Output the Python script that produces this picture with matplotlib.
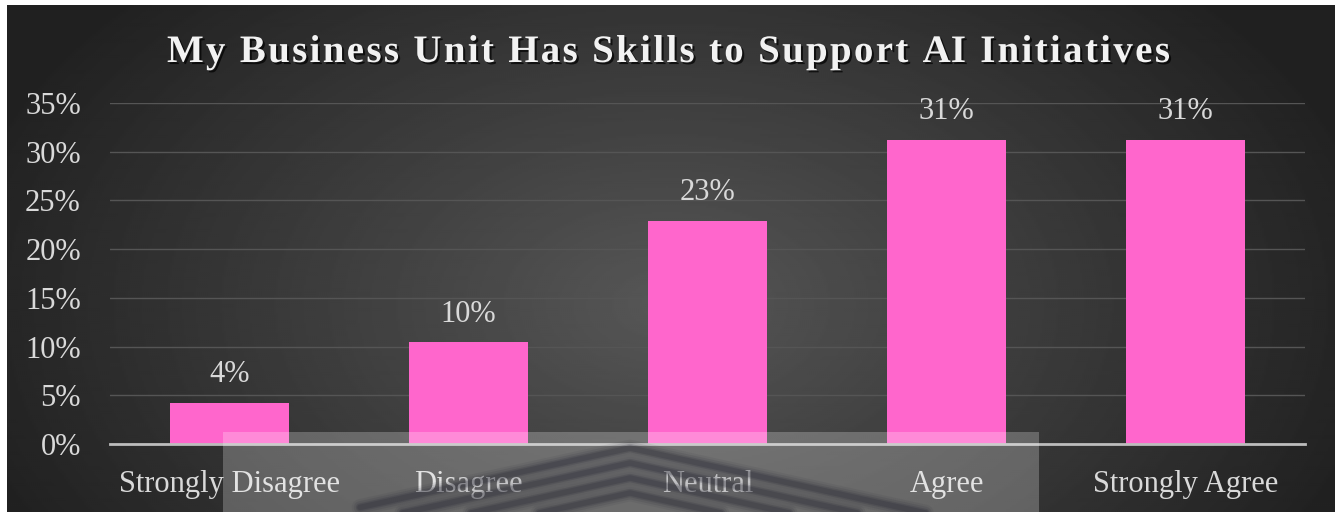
import numpy as np
import matplotlib
matplotlib.use("Agg")
import matplotlib.pyplot as plt
import matplotlib.patheffects as pe
from matplotlib.font_manager import FontProperties
from matplotlib.ticker import PercentFormatter

# survey results (share of respondents)
categories = ["Strongly Disagree", "Disagree", "Neutral", "Agree", "Strongly Agree"]
shares = [0.0417, 0.1042, 0.2292, 0.3125, 0.3125]
yticks = [0, 0.05, 0.10, 0.15, 0.20, 0.25, 0.30, 0.35]
title = "My Business Unit Has Skills to Support AI Initiatives"

W, H = 1343, 512
plt.rcParams["font.family"] = ["Liberation Serif", "DejaVu Serif"]
txt_col = "#d9d9d9"
bar_col = "#ff66cc"

fig = plt.figure(figsize=(W / 100, H / 100), dpi=100)
fig.patch.set_facecolor("white")

# dark radial background panel
bg = fig.add_axes([7 / W, 0, (1335 - 7) / W, 507 / H], zorder=0)
gx, gy = np.meshgrid(np.linspace(0, 1328, 664), np.linspace(0, 507, 254))
r = np.sqrt(((gx - 660) / 760) ** 2 + ((gy - 300) / 480) ** 2)
shade = np.clip(0.34 - 0.22 * r, 0.13, 0.34)
bg.imshow(shade, cmap="gray", vmin=0, vmax=1, aspect="auto",
          extent=[0, 1328, 507, 0], interpolation="bilinear")
bg.set_axis_off()

# main chart
ax = fig.add_axes([110 / W, 1 - 444 / H, (1305 - 110) / W, (444 - 103) / H], zorder=1)
ax.patch.set_alpha(0)
x = np.arange(len(categories))
bars = ax.bar(x, shares, width=0.5, color=bar_col, zorder=3)
for b in bars:
    b.set_path_effects([pe.SimplePatchShadow(offset=(0, 0), shadow_rgbFace="black", alpha=0.35,
                                             rho=0.3), pe.Normal()])
for xi, v in zip(x, shares):
    ax.annotate(f"{v:.0%}", (xi, v), xytext=(0, 10), textcoords="offset points",
                ha="center", va="bottom", fontsize=22, color=txt_col)

ax.set_xlim(-0.5, len(categories) - 0.5)
ax.set_ylim(0, 0.35)
ax.set_yticks(yticks)
ax.yaxis.set_major_formatter(PercentFormatter(1.0, decimals=0))
ax.set_xticks(x)
ax.set_xticklabels(categories)
ax.tick_params(axis="both", length=0, labelsize=22, labelcolor=txt_col)
ax.tick_params(axis="y", pad=21)
ax.tick_params(axis="x", pad=19)
ax.grid(axis="y", color="#555555", linewidth=1.0, zorder=1)
for s in ["top", "right", "left"]:
    ax.spines[s].set_visible(False)
ax.spines["bottom"].set_color("#bdbdbd")
ax.spines["bottom"].set_linewidth(2)
ax.spines["bottom"].set_zorder(4)

# title with letter spacing, placed one glyph at a time
fp = FontProperties(family="Liberation Serif", weight="bold", size=28)
rend = fig.canvas.get_renderer()


def tw(s):
    return rend.get_text_width_height_descent(s, fp, ismath=False)[0]


bar_w = tw("|")
offs = [tw(title[:i] + "|") - bar_w for i in range(len(title))]
natural = tw(title)
start, end = 167, 1170
gap = (end - start - natural) / (len(title) - 1)
shadow = [pe.SimplePatchShadow(offset=(1.5, -1.5), shadow_rgbFace="black", alpha=0.7), pe.Normal()]
for i, ch in enumerate(title):
    if ch == " ":
        continue
    fig.text((start + offs[i] + gap * i) / W, 1 - 62 / H, ch, fontproperties=fp,
             color="#f2f2f2", ha="left", va="baseline", path_effects=shadow)

# translucent panel with soft chevron pattern across the bottom
ov = fig.add_axes([0, 0, 1, 1], zorder=3)
ov.set_xlim(0, W)
ov.set_ylim(H, 0)
ov.set_axis_off()
panel = plt.Rectangle((223, 432), 1039 - 223, 90, facecolor="white", alpha=0.24, edgecolor="none")
ov.add_patch(panel)
for k in range(4):
    top = 448 + 15 * k
    cx = [360, 630, 930]
    cy = [top + 0.22 * 270, top, top + 0.22 * 300]
    for lw, a in [(12, 0.08), (9, 0.12), (6, 0.18), (4, 0.22)]:
        ln, = ov.plot(cx, cy, color="#262632", linewidth=lw, alpha=a,
                      solid_capstyle="round", solid_joinstyle="round")
        ln.set_clip_path(panel)

fig.savefig("out.png", dpi=100)
